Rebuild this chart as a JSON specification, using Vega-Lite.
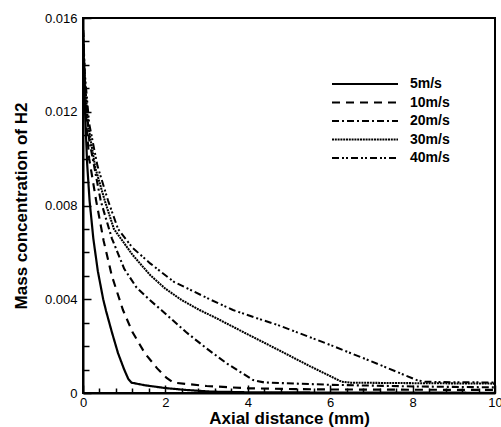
{
  "$schema": "https://vega.github.io/schema/vega-lite/v6.json",
  "width": 412,
  "height": 375,
  "autosize": "none",
  "padding": {"left": 83, "top": 18, "right": 6, "bottom": 34},
  "background": "white",
  "config": {
    "view": {"stroke": "black", "strokeWidth": 2},
    "font": "Liberation Sans",
    "axis": {"grid": false, "domainColor": "black", "domainWidth": 2, "tickColor": "black", "tickWidth": 1.5, "labelColor": "black", "titleColor": "black", "labelFont": "Liberation Sans", "titleFont": "Liberation Sans"}
  },
  "data": {"values": [
    {"v":"5m/s","x":0,"y":0.0155},{"v":"5m/s","x":0.02,"y":0.014},{"v":"5m/s","x":0.05,"y":0.012},{"v":"5m/s","x":0.1,"y":0.0098},{"v":"5m/s","x":0.16,"y":0.0082},{"v":"5m/s","x":0.25,"y":0.0066},{"v":"5m/s","x":0.36,"y":0.0052},{"v":"5m/s","x":0.49,"y":0.004},{"v":"5m/s","x":0.56,"y":0.0035},{"v":"5m/s","x":0.7,"y":0.0026},{"v":"5m/s","x":0.85,"y":0.0017},{"v":"5m/s","x":1.0,"y":0.001},{"v":"5m/s","x":1.1,"y":0.0006},{"v":"5m/s","x":1.18,"y":0.00044},{"v":"5m/s","x":1.5,"y":0.00033},{"v":"5m/s","x":2.0,"y":0.00021},{"v":"5m/s","x":2.5,"y":0.00013},{"v":"5m/s","x":3.1,"y":0.00006},{"v":"5m/s","x":4,"y":0.00003},{"v":"5m/s","x":6,"y":0.00002},{"v":"5m/s","x":10,"y":0.00001},
    {"v":"10m/s","x":0,"y":0.0155},{"v":"10m/s","x":0.03,"y":0.0135},{"v":"10m/s","x":0.08,"y":0.0115},{"v":"10m/s","x":0.15,"y":0.01},{"v":"10m/s","x":0.32,"y":0.0082},{"v":"10m/s","x":0.5,"y":0.0065},{"v":"10m/s","x":0.7,"y":0.005},{"v":"10m/s","x":0.89,"y":0.00397},{"v":"10m/s","x":0.97,"y":0.00354},{"v":"10m/s","x":1.2,"y":0.0026},{"v":"10m/s","x":1.5,"y":0.0017},{"v":"10m/s","x":1.8,"y":0.00105},{"v":"10m/s","x":2.03,"y":0.00064},{"v":"10m/s","x":2.2,"y":0.00044},{"v":"10m/s","x":3,"y":0.0003},{"v":"10m/s","x":4,"y":0.0002},{"v":"10m/s","x":5,"y":0.00017},{"v":"10m/s","x":6,"y":0.00015},{"v":"10m/s","x":8,"y":0.00014},{"v":"10m/s","x":10,"y":0.00013},
    {"v":"20m/s","x":0,"y":0.0155},{"v":"20m/s","x":0.05,"y":0.013},{"v":"20m/s","x":0.15,"y":0.0108},{"v":"20m/s","x":0.43,"y":0.0082},{"v":"20m/s","x":0.7,"y":0.0066},{"v":"20m/s","x":1.0,"y":0.0053},{"v":"20m/s","x":1.3,"y":0.0045},{"v":"20m/s","x":1.62,"y":0.00397},{"v":"20m/s","x":1.9,"y":0.00354},{"v":"20m/s","x":2.5,"y":0.0026},{"v":"20m/s","x":3,"y":0.0019},{"v":"20m/s","x":3.5,"y":0.00125},{"v":"20m/s","x":4.13,"y":0.00055},{"v":"20m/s","x":4.4,"y":0.00045},{"v":"20m/s","x":6,"y":0.00035},{"v":"20m/s","x":8,"y":0.00028},{"v":"20m/s","x":10,"y":0.00024},
    {"v":"30m/s","x":0,"y":0.0155},{"v":"30m/s","x":0.04,"y":0.0135},{"v":"30m/s","x":0.12,"y":0.0115},{"v":"30m/s","x":0.3,"y":0.0096},{"v":"30m/s","x":0.53,"y":0.0082},{"v":"30m/s","x":0.75,"y":0.007},{"v":"30m/s","x":1.2,"y":0.0059},{"v":"30m/s","x":1.63,"y":0.00503},{"v":"30m/s","x":2.0,"y":0.00445},{"v":"30m/s","x":2.39,"y":0.00397},{"v":"30m/s","x":2.83,"y":0.00354},{"v":"30m/s","x":3.24,"y":0.00319},{"v":"30m/s","x":4.0,"y":0.0025},{"v":"30m/s","x":4.73,"y":0.00185},{"v":"30m/s","x":5.5,"y":0.00115},{"v":"30m/s","x":6.28,"y":0.00048},{"v":"30m/s","x":6.5,"y":0.00044},{"v":"30m/s","x":8,"y":0.00042},{"v":"30m/s","x":10,"y":0.0004},
    {"v":"40m/s","x":0,"y":0.0155},{"v":"40m/s","x":0.05,"y":0.0135},{"v":"40m/s","x":0.15,"y":0.0115},{"v":"40m/s","x":0.35,"y":0.0097},{"v":"40m/s","x":0.61,"y":0.0082},{"v":"40m/s","x":0.85,"y":0.007},{"v":"40m/s","x":1.2,"y":0.0062},{"v":"40m/s","x":1.63,"y":0.00553},{"v":"40m/s","x":2.2,"y":0.00475},{"v":"40m/s","x":3.11,"y":0.00397},{"v":"40m/s","x":3.64,"y":0.00354},{"v":"40m/s","x":4.22,"y":0.00319},{"v":"40m/s","x":4.73,"y":0.0029},{"v":"40m/s","x":6,"y":0.00205},{"v":"40m/s","x":7,"y":0.00135},{"v":"40m/s","x":8.1,"y":0.00055},{"v":"40m/s","x":8.3,"y":0.00048},{"v":"40m/s","x":9,"y":0.00046},{"v":"40m/s","x":10,"y":0.00045}
  ]},
  "mark": {"type": "line", "color": "black", "clip": true},
  "encoding": {
    "x": {"field": "x", "type": "quantitative",
      "scale": {"domain": [0, 10], "nice": false, "zero": false},
      "axis": {"title": "Axial distance (mm)", "titleFontSize": 17, "titleFontWeight": "bold", "titlePadding": -2,
        "values": [0,0.4,0.8,1.2,1.6,2,2.4,2.8,3.2,3.6,4,4.4,4.8,5.2,5.6,6,6.4,6.8,7.2,7.6,8,8.4,8.8,9.2,9.6,10],
        "labelExpr": "abs(datum.value/2 - round(datum.value/2)) < 0.001 ? format(datum.value, 'd') : ''",
        "labelFontSize": 13, "labelPadding": 11, "labelFlush": false, "labelOverlap": false,
        "tickSize": {"condition": {"test": "abs(datum.value/2 - round(datum.value/2)) < 0.001", "value": -8}, "value": -5}}},
    "y": {"field": "y", "type": "quantitative",
      "scale": {"domain": [0, 0.016], "nice": false},
      "axis": {"title": "Mass concentration of H2", "titleFontSize": 17, "titleFontWeight": "bold", "titlePadding": 14,
        "values": [0,0.001,0.002,0.003,0.004,0.005,0.006,0.007,0.008,0.009,0.01,0.011,0.012,0.013,0.014,0.015,0.016],
        "labelExpr": "abs(datum.value*250 - round(datum.value*250)) < 0.001 ? (datum.value == 0 ? '0' : format(datum.value, '.3f')) : ''",
        "labelFontSize": 13, "labelPadding": 14, "labelFlush": false, "labelOverlap": false,
        "tickSize": {"condition": {"test": "abs(datum.value*250 - round(datum.value*250)) < 0.001", "value": -8}, "value": -6}}},
    "strokeDash": {"field": "v", "type": "nominal",
      "scale": {"domain": ["5m/s","10m/s","20m/s","30m/s","40m/s"], "range": [[1,0],[8,6],[7,3,2,3],[2,0.8],[7,3,2,2,2,3]]},
      "legend": {"title": null, "orient": "none", "legendX": 275, "legendY": 59, "symbolType": "M-8.25,0H8.25", "symbolSize": 64, "symbolStrokeWidth": 2, "symbolStrokeColor": "black", "labelFontSize": 14, "labelFontWeight": "bold", "labelOffset": 38, "rowPadding": 4.5, "labelColor": "black"}},
    "strokeWidth": {"field": "v", "type": "nominal",
      "scale": {"domain": ["5m/s","10m/s","20m/s","30m/s","40m/s"], "range": [2.2,2,2,1.5,2]},
      "legend": null}
  }
}
